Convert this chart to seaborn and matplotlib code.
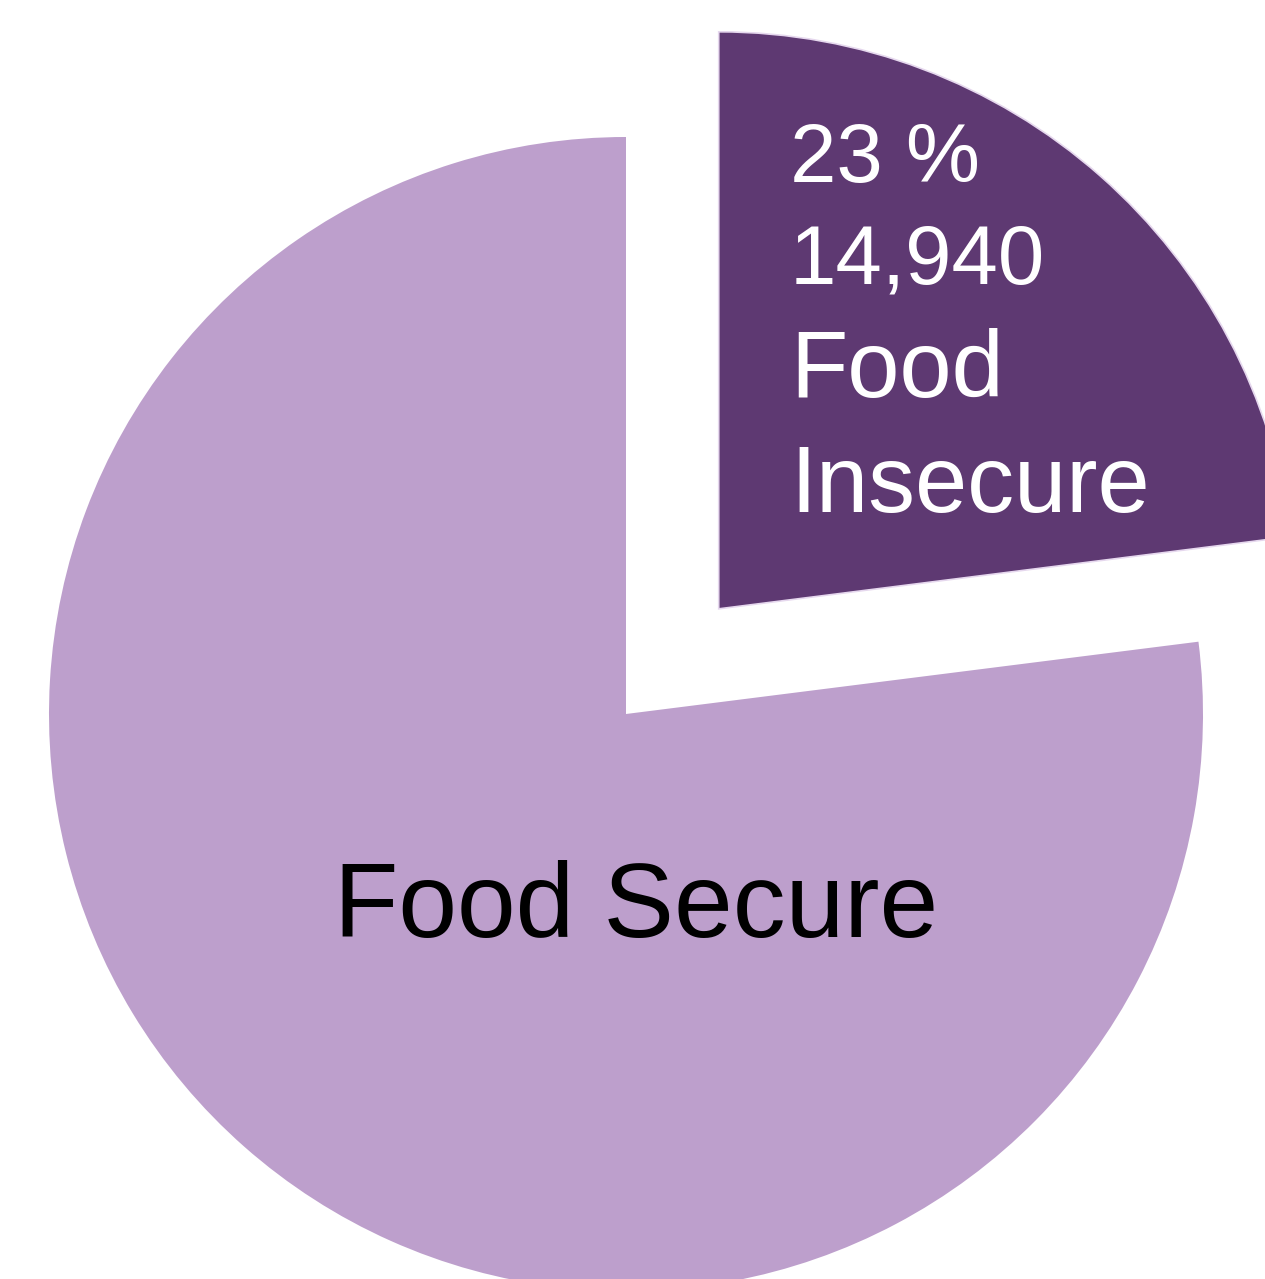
import matplotlib
matplotlib.use("Agg")
import matplotlib.pyplot as plt
import seaborn as sns

sns.set_style("white")
plt.rcParams['font.family'] = ['Liberation Sans', 'DejaVu Sans']

# Data
categories = ["Food Insecure", "Food Secure"]
shares = [23, 77]
insecure_count = "14,940"
colors = ["#5E3972", "#BD9FCC"]

fig = plt.figure(figsize=(12.65, 12.79), dpi=100)
ax = fig.add_axes([0, 0, 1, 1])

wedges, _ = ax.pie(shares, colors=colors, startangle=90, counterclock=False,
                   explode=[0.243, 0], radius=1.0,
                   wedgeprops=dict(linewidth=1.2, edgecolor="#E6D8EE"))
wedges[1].set_linewidth(0)

# map so that radius 1 = 577 px, center at (626, 714) px
ax.set_xlim(-626 / 577, (1265 - 626) / 577)
ax.set_ylim(-(1279 - 714) / 577, 714 / 577)
ax.set_aspect("auto")
ax.axis("off")

x0 = (790 - 626) / 577
lines = [(f"{shares[0]} %", 182, 60), (insecure_count, 283, 60),
         ("Food", 397, 67.5), ("Insecure", 512, 67.5)]
for txt, yb, fs in lines:
    ax.text(x0, (714 - yb) / 577, txt, color="white", fontsize=fs,
            ha="left", va="baseline")

ax.text((636 - 626) / 577, (714 - 937) / 577, categories[1], color="black",
        fontsize=76, ha="center", va="baseline")

fig.savefig("out.png", dpi=100, facecolor="white")
